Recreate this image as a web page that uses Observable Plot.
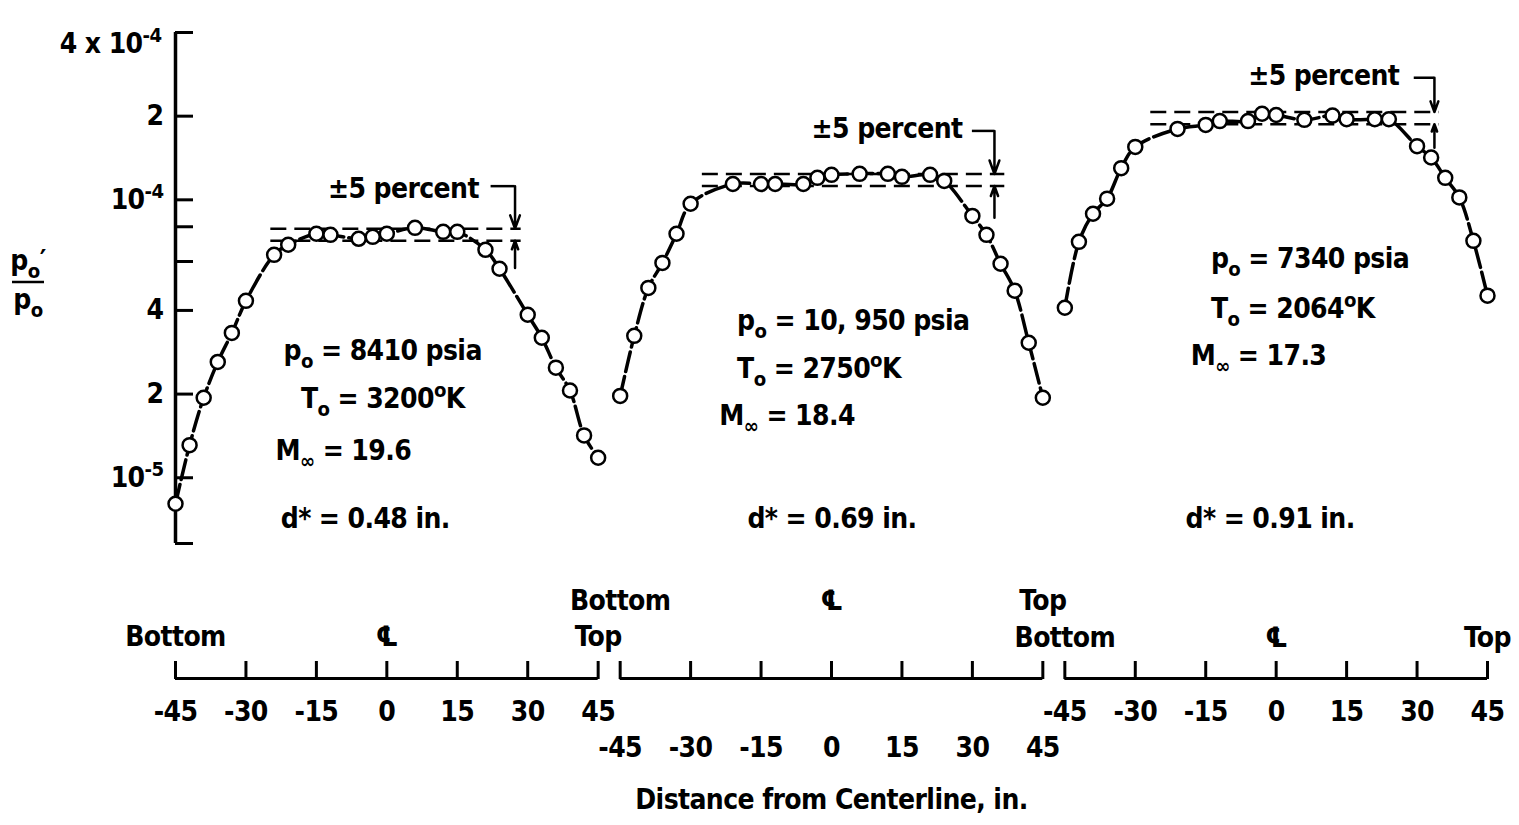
<!DOCTYPE html>
<html><head><meta charset="utf-8">
<script src="https://cdn.jsdelivr.net/npm/d3@7"></script>
<script src="https://cdn.jsdelivr.net/npm/@observablehq/plot@0.6"></script>
<style>
html,body{margin:0;padding:0;background:#fff;}
#chart svg{display:block;}
</style></head><body><div id="chart"></div>
<script>
// ---- data ----
const panels = ["A", "B", "C"];
const xA = [-45,-42,-39,-36,-33,-30,-24,-21,-15,-12,-6,-3,0,6,12,15,21,24,30,33,36,39,42,45];
const yA = [8.06e-6,1.31e-5,1.94e-5,2.61e-5,3.32e-5,4.33e-5,6.34e-5,6.89e-5,7.55e-5,7.48e-5,7.24e-5,7.36e-5,7.55e-5,7.93e-5,7.67e-5,7.67e-5,6.61e-5,5.65e-5,3.86e-5,3.19e-5,2.49e-5,2.06e-5,1.42e-5,1.18e-5];
const xB = [-45,-42,-39,-36,-33,-30,-21,-15,-12,-6,-3,0,6,12,15,21,24,30,33,36,39,42,45];
const yB = [1.97e-5,3.24e-5,4.82e-5,5.93e-5,7.55e-5,9.68e-5,1.14e-4,1.14e-4,1.14e-4,1.14e-4,1.20e-4,1.23e-4,1.24e-4,1.24e-4,1.21e-4,1.23e-4,1.17e-4,8.75e-5,7.48e-5,5.89e-5,4.71e-5,3.06e-5,1.94e-5];
const xC = [-45,-42,-39,-36,-33,-30,-21,-15,-12,-6,-3,0,6,12,15,21,24,30,33,36,39,42,45];
const yC = [4.09e-5,7.06e-5,8.91e-5,1.01e-4,1.30e-4,1.55e-4,1.80e-4,1.86e-4,1.92e-4,1.92e-4,2.04e-4,2.02e-4,1.94e-4,2.01e-4,1.95e-4,1.95e-4,1.95e-4,1.56e-4,1.42e-4,1.20e-4,1.02e-4,7.12e-5,4.52e-5];

// +-5 percent bands
const bandMid = [7.5e-5, 1.18e-4, 1.97e-4];
const bandTol = 0.05;
const bandFrom = [-24.7, -27.5, -26.7];
const bandTo = [28.6, 36.9, 34.7];
// annotation of the band
const noteLabel = "±5 percent";
const noteX = [19.6, 27.9, 26.2];
const noteY = [1.096e-4, 1.80e-4, 2.78e-4];
const bracketFrom = [22.2, 30.0, 29.4];
const bracketX = [27.3, 34.7, 33.7];
const bracketY = [1.12e-4, 1.77e-4, 2.75e-4];
const lowArrowFrom = [5.69e-5, 8.62e-5, 1.54e-4];

// run conditions
const condP = ["p_{o} = 8410 psia", "p_{o} = 10, 950 psia", "p_{o} = 7340 psia"];
const condT = ["T_{o} = 3200^{o}K", "T_{o} = 2750^{o}K", "T_{o} = 2064^{o}K"];
const condM = ["M_{∞} = 19.6", "M_{∞} = 18.4", "M_{∞} = 17.3"];
const condD = ["d* = 0.48 in.", "d* = 0.69 in.", "d* = 0.91 in."];
const condPx = [-22.0, -20.1, -13.9], condPy = [2.86e-5, 3.67e-5, 6.13e-5];
const condTx = [-18.3, -20.1, -13.9], condTy = [1.92e-5, 2.47e-5, 4.05e-5];
const condMx = [-23.7, -23.9, -18.2], condMy = [1.25e-5, 1.67e-5, 2.75e-5];
const condDx = [-22.6, -17.9, -19.3], condDy = [7.12e-6, 7.12e-6, 7.12e-6];

// axes
const xDomain = [-45, 45];
const yDomain = [5.8e-6, 4e-4];
const xTicks = [-45, -30, -15, 0, 15, 30, 45];
const xTickLabels = ["-45", "-30", "-15", "0", "15", "30", "45"];
const yTicks = [5.8e-6, 1e-5, 2e-5, 4e-5, 6e-5, 8e-5, 1e-4, 2e-4, 4e-4];
const yTickLabels = ["", "10^{-5}", "2", "4", "6", "8", "10^{-4}", "2", ""];
const yTopLabel = "4 x 10^{-4}";
const edgeX = [-45, 0, 45];
const edgeLabels = ["Bottom", "\u2104", "Top"];
const xTitle = "Distance from Centerline, in.";

// ---- tables built from the arrays ----
const series = {A: [xA, yA], B: [xB, yB], C: [xC, yC]};
const pts = panels.flatMap(p => series[p][0].map((x, i) => ({panel: p, x, y: series[p][1][i]})));
const bands = panels.map((p, i) => ({
  panel: p, x1: bandFrom[i], x2: bandTo[i],
  hi: bandMid[i] * (1 + bandTol), lo: bandMid[i] * (1 - bandTol),
  tx: noteX[i], ty: noteY[i], bx0: bracketFrom[i], bx: bracketX[i], by: bracketY[i], low: lowArrowFrom[i]
}));
const conds = panels.flatMap((p, i) => [
  {panel: p, x: condPx[i], y: condPy[i], t: condP[i]},
  {panel: p, x: condTx[i], y: condTy[i], t: condT[i]},
  {panel: p, x: condMx[i], y: condMy[i], t: condM[i]},
  {panel: p, x: condDx[i], y: condDy[i], t: condD[i]}
]);
const yLabelMap = new Map(yTicks.map((v, i) => [v, yTickLabels[i]]));
const tickRows = p => xTicks.map((v, i) => ({panel: p, x: v, t: xTickLabels[i]}));
const edgeRows = p => edgeX.map((v, i) => ({panel: p, x: v, t: edgeLabels[i]}));
const tickDy = {A: 177, B: 213, C: 177};
const edgeDy = {A: 102, B: 66, C: 103};

const FONT = "'Liberation Sans Narrow','DejaVu Sans Condensed','Roboto Condensed',sans-serif";

const chart = Plot.plot({
  width: 1519, height: 825,
  marginLeft: 175, marginRight: 32, marginTop: 32, marginBottom: 282,
  x: {domain: xDomain},
  y: {type: "log", domain: yDomain},
  fx: {domain: panels, paddingInner: 0.0495, paddingOuter: 0, axis: null, label: null, round: false},
  style: {fontFamily: FONT, fontSize: "28px", fontWeight: "bold", letterSpacing: "-0.6px", background: "white", color: "black"},
  marks: [
    // y axis
    Plot.ruleX([{panel: "A", x: xDomain[0]}], {fx: "panel", x: "x", strokeWidth: 3.5}),
    Plot.axisY({anchor: "left", ticks: yTicks, tickFormat: d => yLabelMap.get(d) ?? "", tickSize: 18, dx: 18, tickPadding: 12, strokeWidth: 3, fontSize: 28, label: null}),
    Plot.text([{panel: "A", x: xDomain[0], y: yDomain[1], t: yTopLabel}], {fx: "panel", x: "x", y: "y", text: "t", textAnchor: "end", dx: -14, dy: 12}),
    // x axes (one per panel)
    Plot.ruleY(panels, {fx: d => d, y: () => yDomain[0], dy: 135, strokeWidth: 3}),
    Plot.axisX({anchor: "top", ticks: xTicks, tickSize: 18, dy: 646, tickFormat: () => "", strokeWidth: 3, label: null}),
    ...panels.map(p => Plot.text(tickRows(p), {fx: "panel", x: "x", text: "t", frameAnchor: "bottom", dy: tickDy[p]})),
    ...panels.map(p => Plot.text(edgeRows(p), {fx: "panel", x: "x", text: "t", frameAnchor: "bottom", dy: edgeDy[p]})),
    Plot.text([{panel: "B", x: 0, t: xTitle}], {fx: "panel", x: "x", text: "t", frameAnchor: "bottom", dy: 265}),
    // +-5 percent bands
    Plot.ruleY(bands, {fx: "panel", y: "hi", x1: "x1", x2: "x2", strokeWidth: 2.5, strokeDasharray: "16,8"}),
    Plot.ruleY(bands, {fx: "panel", y: "lo", x1: "x1", x2: "x2", strokeWidth: 2.5, strokeDasharray: "16,8"}),
    // data
    Plot.line(pts, {fx: "panel", x: "x", y: "y", curve: "catmull-rom", strokeWidth: 3.5, strokeDasharray: "20,5"}),
    Plot.dot(pts, {fx: "panel", x: "x", y: "y", r: 7, fill: "white", stroke: "black", strokeWidth: 2.5}),
    // band annotations
    Plot.ruleY(bands, {fx: "panel", y: "by", x1: "bx0", x2: "bx", strokeWidth: 2.5}),
    Plot.arrow(bands, {fx: "panel", x1: "bx", x2: "bx", y1: "by", y2: "hi", strokeWidth: 2.5, headLength: 12, headAngle: 40}),
    Plot.arrow(bands, {fx: "panel", x1: "bx", x2: "bx", y1: "low", y2: "lo", strokeWidth: 2.5, headLength: 12, headAngle: 40}),
    Plot.text(bands, {fx: "panel", x: "tx", y: "ty", text: () => noteLabel, textAnchor: "end"}),
    // conditions
    Plot.text(conds, {fx: "panel", x: "x", y: "y", text: "t", textAnchor: "start"})
  ]
});

// y-axis title (fraction)
const g = d3.select(chart).append("g").attr("font-family", FONT).attr("font-size", 28).attr("font-weight", "bold");
g.append("text").attr("x", 28).attr("y", 270).attr("text-anchor", "middle").text("p_{o}\u2032");
g.append("line").attr("x1", 12).attr("x2", 44).attr("y1", 282).attr("y2", 282).attr("stroke", "black").attr("stroke-width", 2.5);
g.append("text").attr("x", 28).attr("y", 309).attr("text-anchor", "middle").text("p_{o}");

// turn _{..} / ^{..} into sub/superscript tspans
function richify(svg) {
  const re = /([_^])\{([^}]*)\}/g;
  svg.querySelectorAll("text").forEach(t => {
    if (t.children.length) return;
    const s = t.textContent;
    if (!/[_^]\{/.test(s)) return;
    t.textContent = "";
    let last = 0, m, shift = 0;
    const add = (str, level, small) => {
      const ts = document.createElementNS("http://www.w3.org/2000/svg", "tspan");
      const dy = level - shift;
      if (dy) ts.setAttribute("dy", dy);
      shift = level;
      if (small) ts.setAttribute("font-size", "72%");
      ts.textContent = str;
      t.appendChild(ts);
    };
    re.lastIndex = 0;
    while ((m = re.exec(s))) {
      if (m.index > last) add(s.slice(last, m.index), 0, false);
      add(m[2], m[1] === "_" ? 8 : -11, true);
      last = re.lastIndex;
    }
    if (last < s.length) add(s.slice(last), 0, false);
  });
}
richify(chart);
document.getElementById("chart").appendChild(chart);
</script>
</body></html>
